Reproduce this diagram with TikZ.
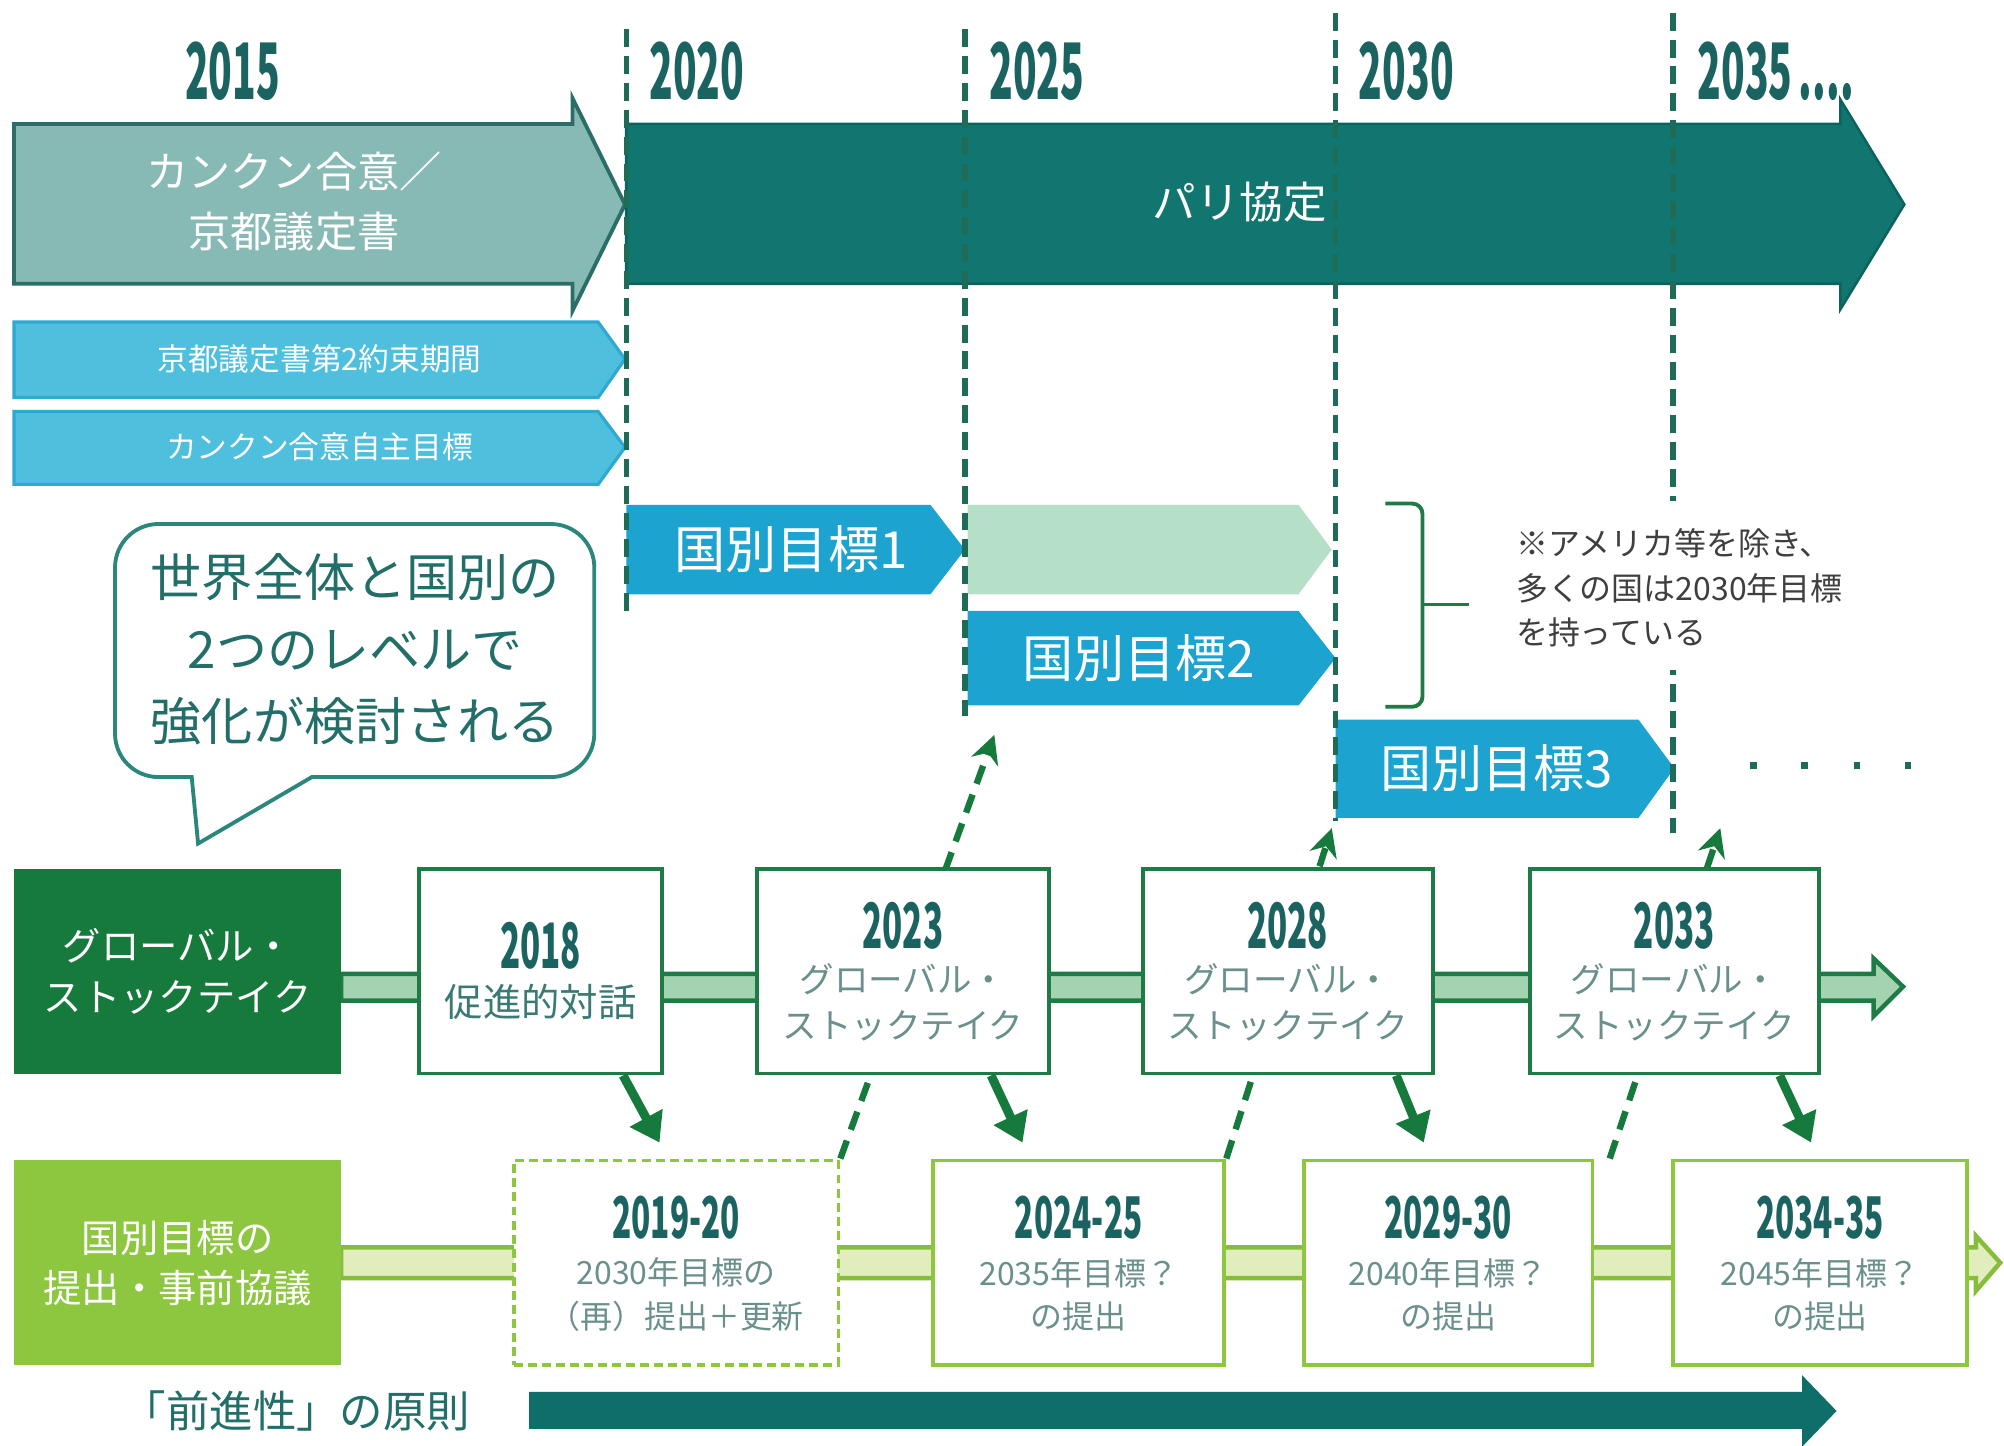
\documentclass[tikz,border=0pt]{standalone}
\usepackage{fontspec}
\setmainfont{Noto Sans CJK JP}
\usetikzlibrary{arrows.meta,calc}
\pgfdeclarelayer{back}
\pgfsetlayers{back,main}

\definecolor{tealdk}{HTML}{1B6360}
\definecolor{dashc}{HTML}{1E6B58}
\definecolor{kyoto}{HTML}{88BAB5}
\definecolor{kyotoedge}{HTML}{2A6E67}
\definecolor{paris}{HTML}{11766F}
\definecolor{parisedge}{HTML}{0C635D}
\definecolor{cyanlt}{HTML}{4EC0DE}
\definecolor{cyanedge}{HTML}{2EA9D2}
\definecolor{cyanbar}{HTML}{1DA3CF}
\definecolor{mint}{HTML}{B5DFC7}
\definecolor{gdark}{HTML}{177A3D}
\definecolor{gbox}{HTML}{1E7B45}
\definecolor{glight}{HTML}{8DC63F}
\definecolor{gyedge}{HTML}{86BD3C}
\definecolor{gband}{HTML}{A3D3B0}
\definecolor{yband}{HTML}{E2EDBE}
\definecolor{bubc}{HTML}{2B867C}
\definecolor{bubtxt}{HTML}{226E68}
\definecolor{notec}{HTML}{3F3F3F}
\definecolor{boxtxt}{HTML}{6A908C}
\definecolor{boxtxtb}{HTML}{3A7A75}
\definecolor{arrowbot}{HTML}{0F6E68}

\newcommand\fsz[1]{\fontsize{#1}{#1}\selectfont}
\newcommand\yrnum[3][0.53]{\scalebox{#1}[1]{\fontsize{#2}{#2}\selectfont\bfseries #3}}

\tikzset{
  vline/.style={draw=dashc, line width=4pt, dash pattern=on 14pt off 7pt},
  yrlab/.style={inner sep=0pt, text=tealdk},
  tbox/.style={draw=gbox, line width=3pt, fill=white, minimum width=#1, minimum height=160pt, inner sep=0pt},
  bbox/.style={draw=glight, line width=3pt, fill=white, minimum width=#1, minimum height=160pt, inner sep=0pt},
  boxjp/.style={inner sep=0pt, text=boxtxt, align=center},
  solidarr/.style={draw=gdark, line width=7pt, -{Triangle[length=22pt,width=28pt]}},
  dasharr/.style={draw=gdark, line width=5pt, dash pattern=on 15pt off 9pt, -{Stealth[length=22pt,width=22pt]}},
  barjp/.style={inner sep=0pt, text=white}
}

\begin{document}
\begin{tikzpicture}[x=1pt,y=-1pt]
\useasboundingbox (0,0) rectangle (1568,1131);
\begin{pgfonlayer}{back}
\fill[white] (0,0) rectangle (1568,1131);
\end{pgfonlayer}

% year labels
\node[yrlab] (y15) at (182,56) {\yrnum[0.5]{61}{2015}};
\node[yrlab, anchor=west] (y20) at (508,56) {\yrnum[0.5]{61}{2020}};
\node[yrlab, anchor=west] (y25) at (774,56) {\yrnum[0.5]{61}{2025}};
\node[yrlab, anchor=west] (y30) at (1063,56) {\yrnum[0.5]{61}{2030}};
\node[yrlab, anchor=west] (y35) at (1328,56) {\yrnum[0.5]{61}{2035\,....}};

% top agreements
\path[fill=kyoto, draw=kyotoedge, line width=3pt] (11,97) -- (448,97) -- (448,77) -- (489,160) -- (448,243) -- (448,222) -- (11,222) -- cycle;
\node[barjp, align=center, font=\fontsize{33}{47}\selectfont] (kyototxt) at (230,158) {カンクン合意／\\京都議定書};

\path[fill=paris, draw=parisedge, line width=2pt] (490,97) -- (1440,97) -- (1440,78) -- (1490,160) -- (1440,242) -- (1440,222) -- (490,222) -- cycle;
\node[barjp, font=\fsz{34}] (paristxt) at (970,158) {パリ協定};

% cyan bars
\path[fill=cyanlt, draw=cyanedge, line width=2.5pt] (11,252) -- (468,252) -- (489,281) -- (468,311) -- (11,311) -- cycle;
\node[barjp, font=\fsz{24}] (kp2) at (250,281) {京都議定書第2約束期間};
\path[fill=cyanlt, draw=cyanedge, line width=2.5pt] (11,322) -- (468,322) -- (489,350) -- (468,379) -- (11,379) -- cycle;
\node[barjp, font=\fsz{24}] (cvt) at (250,350) {カンクン合意自主目標};

% NDC bars
\fill[mint] (757,395) -- (1016,395) -- (1042,430) -- (1016,465) -- (757,465) -- cycle;
\fill[cyanbar] (490,395) -- (728,395) -- (755,430) -- (728,465) -- (490,465) -- cycle;
\node[barjp, font=\fsz{40}] (ndc1) at (619,430) {国別目標1};
\fill[cyanbar] (757,478) -- (1016,478) -- (1045,515) -- (1016,552) -- (757,552) -- cycle;
\node[barjp, font=\fsz{40}] (ndc2) at (891,515) {国別目標2};
\fill[cyanbar] (1045,563) -- (1282,563) -- (1310,601) -- (1282,640) -- (1045,640) -- cycle;
\node[barjp, font=\fsz{40}] (ndc3) at (1171,601) {国別目標3};

% vertical dashed lines
\draw[vline] (490,23) -- (490,478);
\draw[vline] (755,23) -- (755,560);
\draw[vline] (1045,10) -- (1045,642);
\draw[vline] (1309,10) -- (1309,652);

% brace and note
\draw[gbox, line width=3pt, rounded corners=8pt] (1084,394) -- (1113,394) -- (1113,553) -- (1084,553);
\draw[gbox, line width=3pt] (1113,473) -- (1149,473);
\fill[white] (1165,392) rectangle (1525,524);
\node[anchor=west, align=left, inner sep=0pt, text=notec, font=\fontsize{25}{35}\selectfont] (note) at (1186,460) {※アメリカ等を除き、\\多くの国は2030年目標\\を持っている};

% dots
\foreach \x in {1372,1412,1453,1493} \fill[dashc] ({\x-2.5},596.5) rectangle ({\x+2.5},601.5);

% speech bubble
\draw[bubc, line width=3pt, fill=white] (155,660) -- (150,608) [rounded corners=34pt] -- (90,608) -- (90,410) -- (465,410) -- (465,608) [sharp corners] -- (244,608) -- cycle;
\node[text=bubtxt, align=center, inner sep=0pt, font=\fontsize{40}{56}\selectfont] (bubtext) at (278,508) {世界全体と国別の\\2つのレベルで\\強化が検討される};

% row labels
\node[fill=gdark, minimum width=256pt, minimum height=160pt, inner sep=0pt, text=white, align=center, font=\fontsize{30}{40}\selectfont] (gstlab) at (139,760) {グローバル・\\ストックテイク};
\node[fill=glight, minimum width=256pt, minimum height=160pt, inner sep=0pt, text=white, align=center, font=\fontsize{30}{39}\selectfont] (ndclab) at (139,988) {国別目標の\\提出・事前協議};

% top boxes
\node[tbox=190pt] (gst18) at (423,760) {};
\node[tbox=229pt] (gst23) at (706.5,760) {};
\node[tbox=227pt] (gst28) at (1007.5,760) {};
\node[tbox=226pt] (gst33) at (1310,760) {};
% bottom boxes
\node[bbox=254pt, dash pattern=on 7pt off 4pt] (ndc20) at (529,988) {};
\node[bbox=228pt] (ndc25) at (844,988) {};
\node[bbox=226pt] (ndc30) at (1133,988) {};
\node[bbox=230pt] (ndc35) at (1424,988) {};

% box texts
\node[yrlab] (t18) at (423,740) {\yrnum{49}{2018}};
\node[boxjp, text=boxtxtb, font=\fsz{30}] (t18b) at (423,784) {促進的対話};
\node[yrlab] (t23) at (706.5,724) {\yrnum{49}{2023}};
\node[boxjp, font=\fontsize{27}{36}\selectfont] (t23b) at (706.5,784) {グローバル・\\ストックテイク};
\node[yrlab] (t28) at (1007.5,724) {\yrnum{49}{2028}};
\node[boxjp, font=\fontsize{27}{36}\selectfont] (t28b) at (1007.5,784) {グローバル・\\ストックテイク};
\node[yrlab] (t33) at (1310,724) {\yrnum{49}{2033}};
\node[boxjp, font=\fontsize{27}{36}\selectfont] (t33b) at (1310,784) {グローバル・\\ストックテイク};

\node[yrlab] (t20) at (529,953) {\yrnum[0.55]{45}{2019-20}};
\node[boxjp, font=\fontsize{25}{34}\selectfont] (t20b) at (529,1013) {2030年目標の\\（再）提出＋更新};
\node[yrlab] (t25) at (844,953) {\yrnum[0.55]{45}{2024-25}};
\node[boxjp, font=\fontsize{25}{34}\selectfont] (t25b) at (844,1013) {2035年目標？\\の提出};
\node[yrlab] (t30) at (1133,953) {\yrnum[0.55]{45}{2029-30}};
\node[boxjp, font=\fontsize{25}{34}\selectfont] (t30b) at (1133,1013) {2040年目標？\\の提出};
\node[yrlab] (t35) at (1424,953) {\yrnum[0.55]{45}{2034-35}};
\node[boxjp, font=\fontsize{25}{34}\selectfont] (t35b) at (1424,1013) {2045年目標？\\の提出};

% bands and dashed arrows behind the boxes
\coordinate (d1) at (778,575);
\coordinate (d2) at (1042,648);
\coordinate (d3) at (1346,648);
\begin{pgfonlayer}{back}
\path[fill=gband, draw=gbox, line width=3.5pt] (267,762) -- (1466,762) -- (1466,750) -- (1489,772) -- (1466,795) -- (1466,783) -- (267,783) -- cycle;
\path[fill=yband, draw=gyedge, line width=3.5pt] (267,976) -- (1546,976) -- (1546,967) -- (1565,988) -- (1546,1010) -- (1546,1000) -- (267,1000) -- cycle;
\draw[dasharr] (ndc20.north east) -- (d1);
\draw[dasharr] (ndc25.north east) -- (d2);
\draw[dasharr] ($(ndc30.north east)+(12,0)$) -- (d3);
\end{pgfonlayer}

% solid arrows
\coordinate (s1) at (516,894);
\coordinate (s2) at (800,894);
\coordinate (s3) at (1114,894);
\coordinate (s4) at (1417,894);
\draw[solidarr] ($(gst18.south east)+(-32,0)$) -- (s1);
\draw[solidarr] ($(gst23.south east)+(-47,0)$) -- (s2);
\draw[solidarr] ($(gst28.south east)+(-30,0)$) -- (s3);
\draw[solidarr] ($(gst33.south east)+(-32,0)$) -- (s4);

% progression principle
\node[text=bubtxt, inner sep=0pt, font=\fsz{34}] (prog) at (232,1104) {「前進性」の原則};
\path[fill=arrowbot] (414,1089) -- (1410,1089) -- (1410,1076) -- (1437,1104) -- (1410,1132) -- (1410,1118) -- (414,1118) -- cycle;
\end{tikzpicture}
\end{document}
